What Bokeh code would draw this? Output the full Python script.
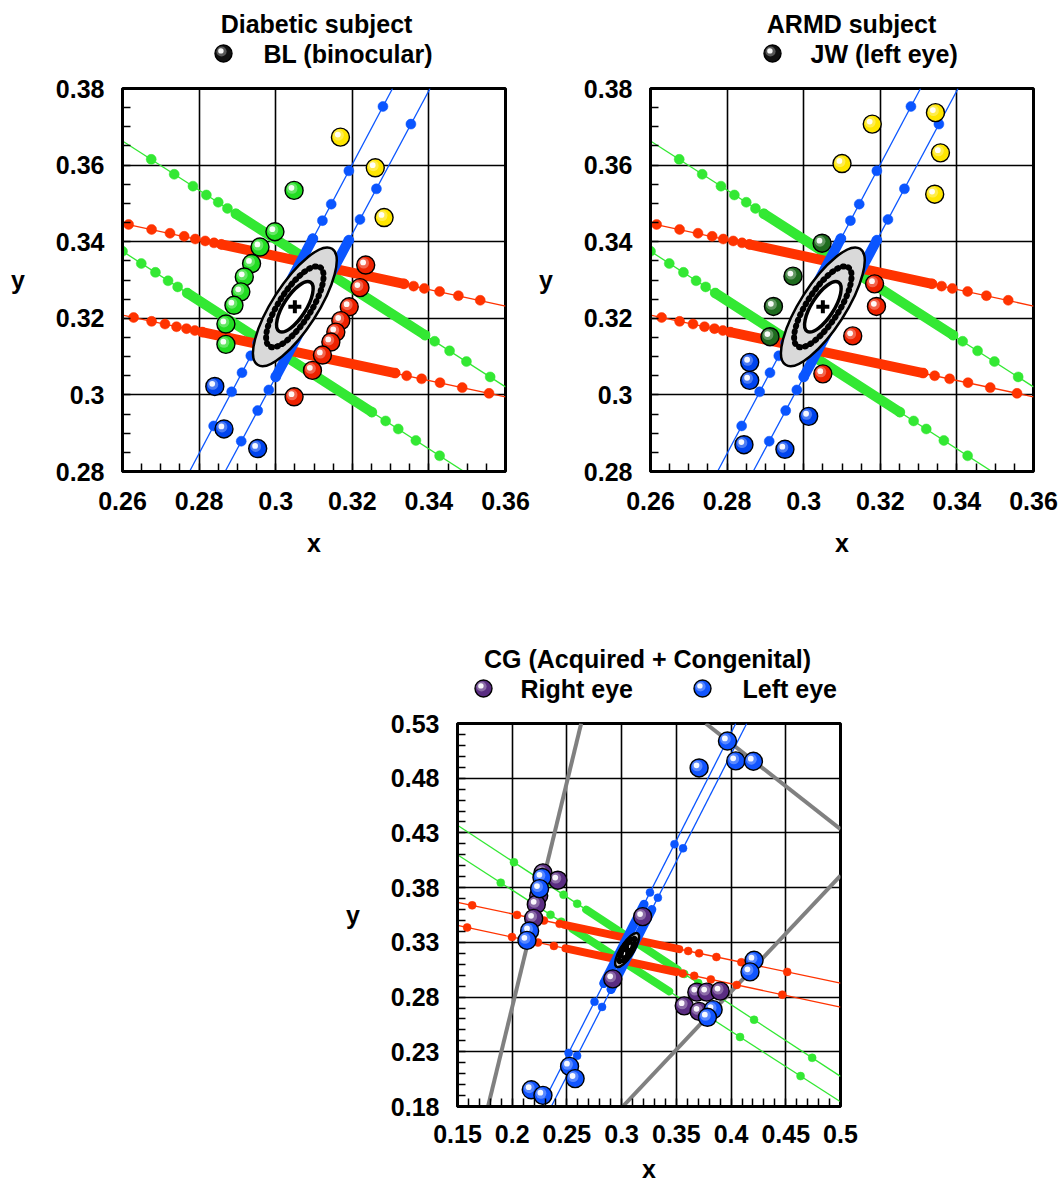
import numpy as np
from bokeh.plotting import figure
from bokeh.models import FixedTicker, ColumnDataSource, Range1d
from bokeh.layouts import column, row
from bokeh.transform import dodge
from bokeh.core.properties import value
from bokeh.embed import file_html
from bokeh.resources import INLINE

FONT = "Liberation Sans"
FSIZE = "25px"
RED = "#ff3300"
GREEN = "#33e833"
BLUE = "#0a55ff"
GRAY = "#808080"

# ---------------- ticks ----------------
top_x_ticks = [0.26, 0.28, 0.30, 0.32, 0.34, 0.36]
top_x_labels = ["0.26", "0.28", "0.3", "0.32", "0.34", "0.36"]
top_y_ticks = [0.28, 0.30, 0.32, 0.34, 0.36, 0.38]
top_y_labels = ["0.28", "0.3", "0.32", "0.34", "0.36", "0.38"]
cg_x_ticks = [0.15, 0.20, 0.25, 0.30, 0.35, 0.40, 0.45, 0.50]
cg_x_labels = ["0.15", "0.2", "0.25", "0.3", "0.35", "0.4", "0.45", "0.5"]
cg_y_ticks = [0.18, 0.23, 0.28, 0.33, 0.38, 0.43, 0.48, 0.53]
cg_y_labels = ["0.18", "0.23", "0.28", "0.33", "0.38", "0.43", "0.48", "0.53"]

# ---------------- titles / legend texts ----------------
titles = ["Diabetic subject", "ARMD subject", "CG (Acquired + Congenital)"]
legend_texts = [["BL (binocular)"], ["JW (left eye)"], ["Right eye", "Left eye"]]

# ---------------- top panels: shared background ----------------
red_upper_line_x = [0.26, 0.36]
red_upper_line_y = [0.3448, 0.3232]
red_upper_dots_x = [0.2616, 0.2676, 0.2724, 0.2761, 0.2790, 0.2816, 0.2839, 0.2858,
                    0.3335, 0.3360, 0.3388, 0.3428, 0.3477, 0.3534]
red_upper_dots_y = [0.3445, 0.3432, 0.3422, 0.3414, 0.3407, 0.3402, 0.3397, 0.3393,
                    0.3290, 0.3284, 0.3278, 0.3270, 0.3259, 0.3247]
red_upper_band_x = [0.2858, 0.3335]
red_upper_band_y = [0.3393, 0.3290]

red_lower_line_x = [0.26, 0.36]
red_lower_line_y = [0.3208, 0.2995]
red_lower_dots_x = [0.2629, 0.2676, 0.2711, 0.2741, 0.2767, 0.2789, 0.2808,
                    0.3312, 0.3342, 0.3381, 0.3429, 0.3487, 0.3557]
red_lower_dots_y = [0.3202, 0.3192, 0.3185, 0.3178, 0.3173, 0.3168, 0.3164,
                    0.3057, 0.3050, 0.3042, 0.3032, 0.3019, 0.3004]
red_lower_band_x = [0.2808, 0.3312]
red_lower_band_y = [0.3164, 0.3057]

green_upper_line_x = [0.26, 0.36]
green_upper_line_y = [0.3663, 0.3021]
green_upper_dots_x = [0.2675, 0.2735, 0.2784, 0.2819, 0.2850, 0.2874, 0.2896,
                      0.3390, 0.3415, 0.3454, 0.3498, 0.3560]
green_upper_dots_y = [0.3615, 0.3576, 0.3545, 0.3522, 0.3503, 0.3487, 0.3473,
                      0.3156, 0.3140, 0.3115, 0.3087, 0.3047]
green_upper_band_x = [0.2896, 0.3390]
green_upper_band_y = [0.3473, 0.3156]

green_lower_line_x = [0.26, 0.36]
green_lower_line_y = [0.3375, 0.2730]
green_lower_dots_x = [0.2600, 0.2649, 0.2686, 0.2719, 0.2744, 0.2769,
                      0.3251, 0.3287, 0.3320, 0.3366, 0.3428]
green_lower_dots_y = [0.3375, 0.3343, 0.3320, 0.3298, 0.3282, 0.3266,
                      0.2955, 0.2932, 0.2911, 0.2881, 0.2841]
green_lower_band_x = [0.2769, 0.3251]
green_lower_band_y = [0.3266, 0.2955]

blue_left_line_x = [0.2775, 0.3305]
blue_left_line_y = [0.28, 0.38]
blue_left_dots_x = [0.2838, 0.2885, 0.2912, 0.2935, 0.2953, 0.3097, 0.3122, 0.3145, 0.3191, 0.3280]
blue_left_dots_y = [0.2919, 0.3008, 0.3058, 0.3102, 0.3136, 0.3408, 0.3455, 0.3498, 0.3585, 0.3753]
blue_left_band_x = [0.2953, 0.3097]
blue_left_band_y = [0.3136, 0.3408]

blue_right_line_x = [0.2868, 0.3403]
blue_right_line_y = [0.28, 0.38]
blue_right_dots_x = [0.2910, 0.2953, 0.2982, 0.3000, 0.3191, 0.3220, 0.3263, 0.3353]
blue_right_dots_y = [0.2879, 0.2959, 0.3013, 0.3047, 0.3404, 0.3458, 0.3538, 0.3707]
blue_right_band_x = [0.3000, 0.3191]
blue_right_band_y = [0.3047, 0.3404]

# discrimination ellipse (shared)
ell_x = [0.3050]
ell_y = [0.3230]
ell_angle = [1.0]
ell_outer_w, ell_outer_h = [0.0360], [0.0118]
ell_ring_w, ell_ring_h = [0.0245], [0.0084]
ell_inner_w, ell_inner_h = [0.0152], [0.0058]

# ---------------- BL (binocular) ----------------
bl_yellow_x = [0.3169, 0.3260, 0.3283]
bl_yellow_y = [0.3673, 0.3593, 0.3463]
bl_green_x = [0.3048, 0.2998, 0.2959, 0.2937, 0.2918, 0.2909, 0.2891, 0.2870, 0.2870]
bl_green_y = [0.3534, 0.3426, 0.3386, 0.3343, 0.3308, 0.3269, 0.3234, 0.3185, 0.3132]
bl_red_x = [0.3235, 0.3220, 0.3192, 0.3170, 0.3157, 0.3144, 0.3122, 0.3096, 0.3048]
bl_red_y = [0.3339, 0.3280, 0.3230, 0.3194, 0.3164, 0.3138, 0.3104, 0.3064, 0.2995]
bl_blue_x = [0.2841, 0.2865, 0.2953]
bl_blue_y = [0.3022, 0.2911, 0.2860]

# ---------------- JW (left eye) ----------------
jw_yellow_x = [0.3344, 0.3179, 0.3357, 0.3100, 0.3342]
jw_yellow_y = [0.3737, 0.3707, 0.3632, 0.3604, 0.3524]
jw_green_x = [0.3048, 0.2972, 0.2921, 0.2912]
jw_green_y = [0.3396, 0.3310, 0.3231, 0.3152]
jw_red_x = [0.3185, 0.3190, 0.3128, 0.3050]
jw_red_y = [0.3290, 0.3231, 0.3154, 0.3055]
jw_blue_x = [0.2859, 0.2859, 0.3013, 0.2844, 0.2951]
jw_blue_y = [0.3085, 0.3038, 0.2944, 0.2870, 0.2858]

# ---------------- CG background ----------------
cg_gray1_x = [0.1779, 0.2630]
cg_gray1_y = [0.18, 0.53]
cg_gray2_x = [0.3769, 0.50]
cg_gray2_y = [0.53, 0.4335]
cg_gray3_x = [0.3010, 0.50]
cg_gray3_y = [0.18, 0.391]

cg_red_upper_line_x = [0.15, 0.50]
cg_red_upper_line_y = [0.3666, 0.2927]
cg_red_upper_dots_x = [0.1634, 0.2044, 0.2290, 0.2433, 0.3608, 0.3708, 0.3866, 0.4094, 0.4513]
cg_red_upper_dots_y = [0.3638, 0.3551, 0.3499, 0.3469, 0.3221, 0.3200, 0.3166, 0.3118, 0.3030]
cg_red_upper_band_x = [0.2478, 0.3526]
cg_red_upper_band_y = [0.3460, 0.3238]

cg_red_lower_line_x = [0.15, 0.50]
cg_red_lower_line_y = [0.3455, 0.2709]
cg_red_lower_dots_x = [0.1588, 0.1998, 0.2235, 0.2381, 0.3557, 0.3663, 0.3815, 0.4052, 0.4468]
cg_red_lower_dots_y = [0.3436, 0.3349, 0.3298, 0.3267, 0.3016, 0.2994, 0.2961, 0.2911, 0.2822]
cg_red_lower_band_x = [0.2487, 0.3500]
cg_red_lower_band_y = [0.3245, 0.3029]

cg_green_upper_line_x = [0.15, 0.50]
cg_green_upper_line_y = [0.4370, 0.2075]
cg_green_upper_dots_x = [0.2016, 0.2469, 0.2594, 0.3572, 0.3700, 0.4210, 0.4741]
cg_green_upper_dots_y = [0.4032, 0.3735, 0.3653, 0.3011, 0.2928, 0.2593, 0.2245]
cg_green_upper_band_x = [0.2676, 0.3511]
cg_green_upper_band_y = [0.3599, 0.3051]

cg_green_lower_line_x = [0.15, 0.50]
cg_green_lower_line_y = [0.4100, 0.1843]
cg_green_lower_dots_x = [0.1895, 0.2350, 0.2448, 0.4082, 0.4635]
cg_green_lower_dots_y = [0.3845, 0.3552, 0.3489, 0.2435, 0.2078]
cg_green_lower_band_x = [0.2550, 0.3435]
cg_green_lower_band_y = [0.3423, 0.2852]

cg_blue_left_line_x = [0.2266, 0.4043]
cg_blue_left_line_y = [0.18, 0.53]
cg_blue_left_dots_x = [0.2515, 0.2752, 0.2837, 0.3259, 0.3483]
cg_blue_left_dots_y = [0.2290, 0.2757, 0.2925, 0.3756, 0.4197]
cg_blue_left_band_x = [0.2837, 0.3205]
cg_blue_left_band_y = [0.2925, 0.3649]

cg_blue_right_line_x = [0.2357, 0.4143]
cg_blue_right_line_y = [0.18, 0.53]
cg_blue_right_dots_x = [0.2593, 0.2821, 0.2903, 0.3331, 0.3561]
cg_blue_right_dots_y = [0.2263, 0.2710, 0.2870, 0.3708, 0.4159]
cg_blue_right_band_x = [0.2903, 0.3276]
cg_blue_right_band_y = [0.2870, 0.3601]

# CG subject data
cg_right_x = [0.2281, 0.2417, 0.2242, 0.2220, 0.2196, 0.3192, 0.2919, 0.3572, 0.3687, 0.3778, 0.3900, 0.3708]
cg_right_y = [0.3935, 0.3868, 0.3726, 0.3647, 0.3519, 0.3535, 0.2966, 0.2720, 0.2845, 0.2845, 0.2854, 0.2669]
cg_left_x = [0.3967, 0.4043, 0.4204, 0.3708, 0.2272, 0.2250, 0.2159, 0.2135,
             0.4210, 0.4173, 0.3836, 0.3784, 0.2524, 0.2575, 0.2174, 0.2281]
cg_left_y = [0.5140, 0.4958, 0.4955, 0.4894, 0.3893, 0.3791, 0.3404, 0.3318,
             0.3136, 0.3030, 0.2685, 0.2615, 0.2167, 0.2055, 0.1953, 0.1902]

FRAME = 383
PX_TOP = 0.1 / FRAME
PX_CG = 0.35 / FRAME


def make_fig(xr, yr, xt, xl, yt, yl, xminor, yminor, bl, br, bb, x_tick_standoff, x_lab_standoff):
    p = figure(frame_width=FRAME, frame_height=FRAME, x_range=Range1d(*xr), y_range=Range1d(*yr),
               output_backend="svg", toolbar_location=None, title=None,
               min_border_left=bl, min_border_right=br, min_border_top=12, min_border_bottom=bb)
    p.outline_line_color = "black"
    p.outline_line_width = 3
    p.outline_line_alpha = 1
    p.background_fill_color = "white"
    p.border_fill_color = "white"
    for ax, ticks, labels, minor in ((p.xaxis[0], xt, xl, xminor), (p.yaxis[0], yt, yl, yminor)):
        ax.ticker = FixedTicker(ticks=ticks, minor_ticks=minor)
        ax.major_label_overrides = dict(zip(ticks, labels))
        ax.major_label_text_font = FONT
        ax.major_label_text_font_size = FSIZE
        ax.major_label_text_font_style = "bold"
        ax.major_label_text_color = "black"
        ax.axis_line_width = 3
        ax.axis_line_color = "black"
        ax.major_tick_in = 0
        ax.major_tick_out = 0
        ax.minor_tick_in = 8
        ax.minor_tick_out = 0
        ax.minor_tick_line_width = 1.5
        ax.minor_tick_line_color = "black"
        ax.axis_label_text_font = FONT
        ax.axis_label_text_font_size = FSIZE
        ax.axis_label_text_font_style = "bold"
        ax.axis_label_text_color = "black"
    p.xaxis.major_label_standoff = x_tick_standoff
    p.yaxis.major_label_standoff = 18
    p.xaxis.axis_label = "x"
    p.yaxis.axis_label = "y"
    p.xaxis.axis_label_standoff = x_lab_standoff
    p.yaxis.axis_label_standoff = 28
    yax = p.yaxis[0]
    if "axis_label_orientation" in yax.properties():
        yax.axis_label_orientation = "horizontal"
    p.xgrid.ticker = FixedTicker(ticks=xt)
    p.ygrid.ticker = FixedTicker(ticks=yt)
    p.grid.grid_line_color = "black"
    p.grid.grid_line_width = 1.6
    p.grid.grid_line_alpha = 1
    return p


def make_header(page_left, page_top, height, bl, br):
    # header canvas whose frame sits exactly above the plot frame; coordinates are page pixels
    hd = figure(frame_width=FRAME, frame_height=height,
                x_range=Range1d(page_left, page_left + FRAME), y_range=Range1d(page_top + height, page_top),
                output_backend="svg", toolbar_location=None, title=None,
                x_axis_location=None, y_axis_location=None,
                min_border_left=bl, min_border_right=br, min_border_top=0, min_border_bottom=0)
    hd.outline_line_alpha = 0
    hd.grid.visible = False
    hd.background_fill_color = "white"
    hd.border_fill_color = "white"
    return hd


def htext(hd, x, y, txt, align):
    hd.text(x=[x], y=[y], text=[txt], text_font=value(FONT), text_font_size=value(FSIZE),
            text_font_style="bold", text_color="black", text_align=align, text_baseline="middle")


def lined(p, lx, ly, dx, dy, bx, by, color, dot, band):
    p.line(lx, ly, line_color=color, line_width=1.3)
    p.line(bx, by, line_color=color, line_width=band, line_cap="round")
    p.scatter(dx, dy, size=dot, fill_color=color, line_color=color, line_width=0.5)


def spheres(p, xs, ys, color, pxx, pxy, size=18):
    for i in range(len(xs)):
        src = ColumnDataSource(dict(x=[xs[i]], y=[ys[i]]))
        p.scatter("x", "y", source=src, size=size, fill_color=color, line_color="black", line_width=1.4)
        p.scatter(x=dodge("x", -2.0 * pxx), y=dodge("y", 2.0 * pxy), source=src, size=size * 0.6,
                  fill_color="white", fill_alpha=0.3, line_alpha=0)
        p.scatter(x=dodge("x", -2.6 * pxx), y=dodge("y", 2.6 * pxy), source=src, size=size * 0.32,
                  fill_color="white", fill_alpha=0.95, line_alpha=0)


def ellipse(p):
    p.ellipse(ell_x, ell_y, width=ell_outer_w, height=ell_outer_h, angle=ell_angle,
              fill_color="#d9d9d9", line_color="black", line_width=2.5)
    p.ellipse(ell_x, ell_y, width=ell_ring_w, height=ell_ring_h, angle=ell_angle,
              fill_alpha=0, line_color="black", line_width=6, line_dash="1 5", line_cap="round")
    p.ellipse(ell_x, ell_y, width=ell_inner_w, height=ell_inner_h, angle=ell_angle,
              fill_color="white", line_color="black", line_width=3.5)
    p.scatter(ell_x, ell_y, marker="cross", size=13, line_width=4, line_color="black")


top_minor_x = [round(v, 4) for v in np.arange(0.26, 0.3601, 0.005)]
top_minor_y = [round(v, 4) for v in np.arange(0.28, 0.3801, 0.005)]
cg_minor_x = [round(v, 4) for v in np.arange(0.15, 0.5001, 0.01)]
cg_minor_y = [round(v, 4) for v in np.arange(0.18, 0.5301, 0.01)]


def top_background(p):
    lined(p, green_upper_line_x, green_upper_line_y, green_upper_dots_x, green_upper_dots_y,
          green_upper_band_x, green_upper_band_y, GREEN, 10, 10)
    lined(p, green_lower_line_x, green_lower_line_y, green_lower_dots_x, green_lower_dots_y,
          green_lower_band_x, green_lower_band_y, GREEN, 10, 10)
    lined(p, red_upper_line_x, red_upper_line_y, red_upper_dots_x, red_upper_dots_y,
          red_upper_band_x, red_upper_band_y, RED, 10, 10)
    lined(p, red_lower_line_x, red_lower_line_y, red_lower_dots_x, red_lower_dots_y,
          red_lower_band_x, red_lower_band_y, RED, 10, 10)
    lined(p, blue_left_line_x, blue_left_line_y, blue_left_dots_x, blue_left_dots_y,
          blue_left_band_x, blue_left_band_y, BLUE, 10, 10)
    lined(p, blue_right_line_x, blue_right_line_y, blue_right_dots_x, blue_right_dots_y,
          blue_right_band_x, blue_right_band_y, BLUE, 10, 10)
    ellipse(p)


# ---- page layout (pixels) ----
L1, R1 = 122, 30      # borders of top-left plot
L2, R2 = 115, 30      # borders of top-right plot
L3, R3 = 457, 30      # borders of bottom plot
F1_LEFT = L1
F2_LEFT = L1 + FRAME + R1 + L2
F3_LEFT = L3
HEAD_TOP_H = 76
TOP_BOTTOM = 90
ROW1_H = HEAD_TOP_H + 12 + FRAME + TOP_BOTTOM
HEAD_CG_H = 150

# ---- Diabetic subject ----
h1 = make_header(F1_LEFT, 0, HEAD_TOP_H, L1, R1)
htext(h1, 316, 23, titles[0], "center")
spheres(h1, [223], [53], "#111111", 1, -1, size=17)
htext(h1, 263, 53, legend_texts[0][0], "left")

p1 = make_fig((0.26, 0.36), (0.28, 0.38), top_x_ticks, top_x_labels, top_y_ticks, top_y_labels,
              top_minor_x, top_minor_y, L1, R1, TOP_BOTTOM, 20, 16)
top_background(p1)
spheres(p1, bl_yellow_x, bl_yellow_y, "#ffe600", PX_TOP, PX_TOP)
spheres(p1, bl_green_x, bl_green_y, "#22dd22", PX_TOP, PX_TOP)
spheres(p1, bl_red_x, bl_red_y, "#ee2200", PX_TOP, PX_TOP)
spheres(p1, bl_blue_x, bl_blue_y, "#0044ee", PX_TOP, PX_TOP)

# ---- ARMD subject ----
h2 = make_header(F2_LEFT, 0, HEAD_TOP_H, L2, R2)
htext(h2, 851, 23, titles[1], "center")
spheres(h2, [772], [53], "#111111", 1, -1, size=17)
htext(h2, 810, 53, legend_texts[1][0], "left")

p2 = make_fig((0.26, 0.36), (0.28, 0.38), top_x_ticks, top_x_labels, top_y_ticks, top_y_labels,
              top_minor_x, top_minor_y, L2, R2, TOP_BOTTOM, 20, 16)
top_background(p2)
spheres(p2, jw_yellow_x, jw_yellow_y, "#ffe600", PX_TOP, PX_TOP)
spheres(p2, jw_green_x, jw_green_y, "#1e6b1e", PX_TOP, PX_TOP)
spheres(p2, jw_red_x, jw_red_y, "#ee2200", PX_TOP, PX_TOP)
spheres(p2, jw_blue_x, jw_blue_y, "#0044ee", PX_TOP, PX_TOP)

# ---- CG ----
h3 = make_header(F3_LEFT, ROW1_H, HEAD_CG_H, L3, R3)
htext(h3, 647, 658, titles[2], "center")
spheres(h3, [483], [688], "#5a2d82", 1, -1, size=17)
htext(h3, 520, 688, legend_texts[2][0], "left")
spheres(h3, [702], [688], "#1155ff", 1, -1, size=17)
htext(h3, 742, 688, legend_texts[2][1], "left")

p3 = make_fig((0.15, 0.50), (0.18, 0.53), cg_x_ticks, cg_x_labels, cg_y_ticks, cg_y_labels,
              cg_minor_x, cg_minor_y, L3, R3, 80, 18, 9)
for gx, gy in ((cg_gray1_x, cg_gray1_y), (cg_gray2_x, cg_gray2_y), (cg_gray3_x, cg_gray3_y)):
    p3.line(gx, gy, line_color=GRAY, line_width=4)
lined(p3, cg_green_upper_line_x, cg_green_upper_line_y, cg_green_upper_dots_x, cg_green_upper_dots_y,
      cg_green_upper_band_x, cg_green_upper_band_y, GREEN, 8, 8)
lined(p3, cg_green_lower_line_x, cg_green_lower_line_y, cg_green_lower_dots_x, cg_green_lower_dots_y,
      cg_green_lower_band_x, cg_green_lower_band_y, GREEN, 8, 8)
lined(p3, cg_red_upper_line_x, cg_red_upper_line_y, cg_red_upper_dots_x, cg_red_upper_dots_y,
      cg_red_upper_band_x, cg_red_upper_band_y, RED, 8, 8)
lined(p3, cg_red_lower_line_x, cg_red_lower_line_y, cg_red_lower_dots_x, cg_red_lower_dots_y,
      cg_red_lower_band_x, cg_red_lower_band_y, RED, 8, 8)
lined(p3, cg_blue_left_line_x, cg_blue_left_line_y, cg_blue_left_dots_x, cg_blue_left_dots_y,
      cg_blue_left_band_x, cg_blue_left_band_y, BLUE, 8, 9)
lined(p3, cg_blue_right_line_x, cg_blue_right_line_y, cg_blue_right_dots_x, cg_blue_right_dots_y,
      cg_blue_right_band_x, cg_blue_right_band_y, BLUE, 8, 9)
ellipse(p3)
spheres(p3, cg_right_x, cg_right_y, "#5a2d82", PX_CG, PX_CG)
spheres(p3, cg_left_x, cg_left_y, "#1155ff", PX_CG, PX_CG)

layout = column(row(column(h1, p1), column(h2, p2)), column(h3, p3))
open("out.html", "w").write(file_html(layout, INLINE))
